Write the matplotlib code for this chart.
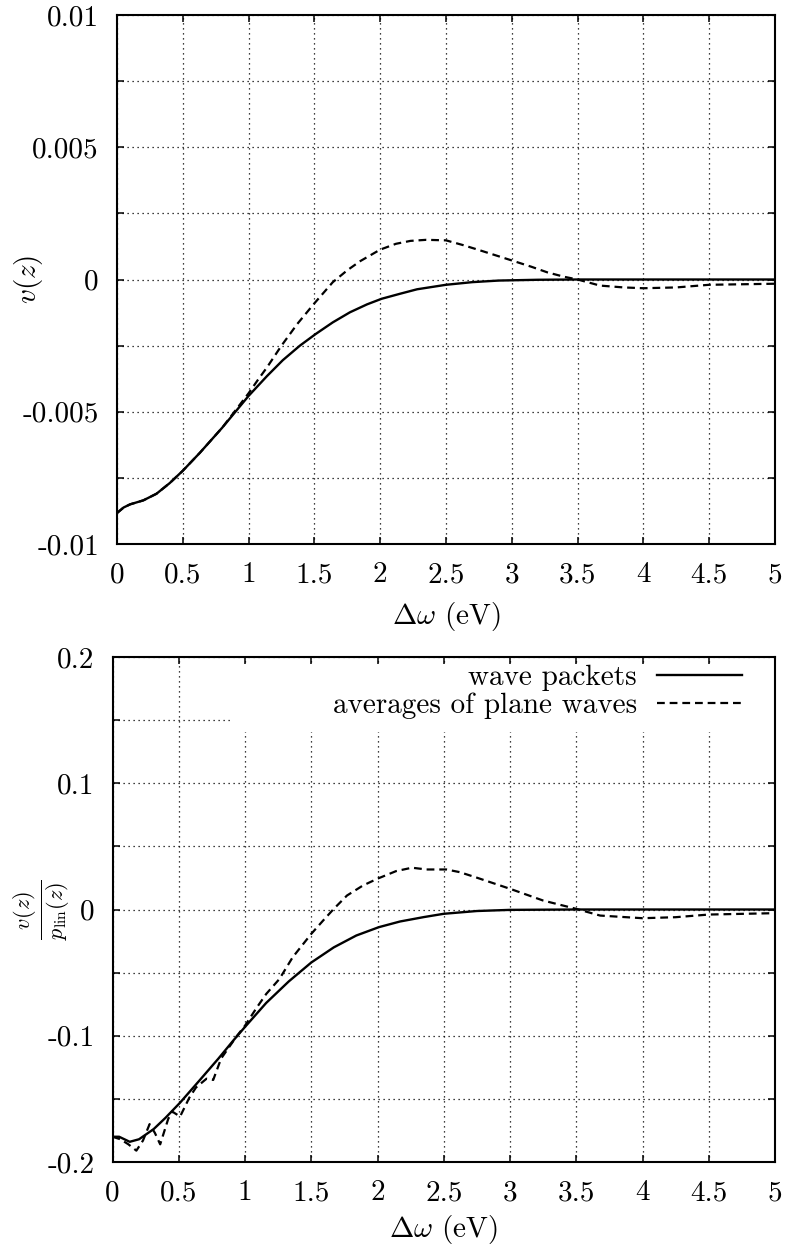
import matplotlib
matplotlib.use('Agg')
import matplotlib.pyplot as plt
from matplotlib.patches import Rectangle

plt.rcParams['font.family'] = 'cmr10'
plt.rcParams['mathtext.fontset'] = 'cm'
plt.rcParams['axes.unicode_minus'] = False
plt.rcParams['axes.formatter.use_mathtext'] = True

# top panel: v(z)
x_top_wp = [0, 0.05, 0.1, 0.2, 0.3, 0.4, 0.5, 0.63, 0.8, 0.9, 1.0, 1.14, 1.26, 1.39,
            1.51, 1.64, 1.77, 1.9, 2.01, 2.15, 2.28, 2.5, 2.7, 2.9, 3.2, 3.5, 4.0, 4.5, 5.0]
v_top_wp = [-0.00883, -0.00862, -0.0085, -0.00835, -0.0081, -0.0077, -0.00723, -0.00655,
            -0.0056, -0.005, -0.0044, -0.00365, -0.00305, -0.0025, -0.00206, -0.00162,
            -0.00124, -0.00094, -0.00073, -0.00054, -0.00037, -0.0002, -0.0001, -0.00004,
            -0.00001, 0, 0, 0, 0]

x_top_pw = [0, 0.05, 0.1, 0.2, 0.3, 0.4, 0.5, 0.63, 0.8, 0.9, 1.0, 1.07, 1.14, 1.25, 1.37,
            1.5, 1.64, 1.75, 1.85, 2.0, 2.12, 2.23, 2.35, 2.5, 2.63, 2.76, 3.0, 3.15, 3.27,
            3.4, 3.5, 3.67, 3.85, 4.0, 4.25, 4.5, 4.75, 5.0]
v_top_pw = [-0.00883, -0.00862, -0.0085, -0.00835, -0.0081, -0.0077, -0.00723, -0.00655,
            -0.0056, -0.00495, -0.0043, -0.0038, -0.00332, -0.0025, -0.00168, -0.0009,
            -0.0001, 0.00035, 0.0007, 0.00113, 0.00135, 0.00146, 0.0015, 0.00148, 0.0013,
            0.0011, 0.00072, 0.00048, 0.00027, 0.0001, 0.0, -0.00023, -0.0003, -0.00033,
            -0.0003, -0.0002, -0.00018, -0.00016]

# bottom panel: v(z)/p_lin(z)
x_bot_wp = [0, 0.05, 0.13, 0.2, 0.31, 0.4, 0.51, 0.66, 0.8, 0.91, 1.0, 1.16, 1.33, 1.5,
            1.67, 1.84, 2.01, 2.17, 2.35, 2.5, 2.75, 3.0, 3.5, 4.0, 4.5, 5.0]
r_bot_wp = [-0.180, -0.180, -0.184, -0.182, -0.174, -0.165, -0.153, -0.135, -0.118, -0.104,
            -0.093, -0.074, -0.057, -0.042, -0.030, -0.0206, -0.014, -0.0095, -0.006,
            -0.0034, -0.0012, -0.0003, 0, 0, 0, 0]

x_bot_pw = [0, 0.06, 0.12, 0.18, 0.23, 0.28, 0.32, 0.36, 0.42, 0.45, 0.48, 0.51, 0.58, 0.63,
            0.71, 0.76, 0.82, 0.94, 1.0, 1.09, 1.16, 1.26, 1.36, 1.5, 1.59, 1.67, 1.77, 1.89,
            2.0, 2.14, 2.26, 2.37, 2.52, 2.62, 2.75, 3.0, 3.25, 3.5, 3.68, 4.0, 4.25, 4.5, 5.0]
r_bot_pw = [-0.180, -0.182, -0.186, -0.191, -0.183, -0.170, -0.177, -0.186, -0.166, -0.160,
            -0.162, -0.164, -0.149, -0.141, -0.134, -0.135, -0.118, -0.100, -0.092, -0.0775,
            -0.0669, -0.055, -0.0378, -0.0193, -0.0087, 0.0005, 0.0111, 0.019, 0.0244,
            0.0304, 0.0331, 0.0317, 0.0317, 0.0296, 0.0252, 0.0164, 0.0071, 0.0005, -0.0048,
            -0.0069, -0.0061, -0.004, -0.0029]

x_ticks = [0, 0.5, 1, 1.5, 2, 2.5, 3, 3.5, 4, 4.5, 5]
x_ticklabels = ['0', '0.5', '1', '1.5', '2', '2.5', '3', '3.5', '4', '4.5', '5']
top_yticks = [-0.01, -0.0075, -0.005, -0.0025, 0, 0.0025, 0.005, 0.0075, 0.01]
top_yticklabels = ['-0.01', '', '-0.005', '', '0', '', '0.005', '', '0.01']
bot_yticks = [-0.2, -0.15, -0.1, -0.05, 0, 0.05, 0.1, 0.15, 0.2]
bot_yticklabels = ['-0.2', '', '-0.1', '', '0', '', '0.1', '', '0.2']

W, H = 792, 1256
fig = plt.figure(figsize=(W / 100, H / 100), dpi=100)
ax1 = fig.add_axes([117 / W, 1 - 544 / H, (775 - 117) / W, (544 - 15) / H])
ax2 = fig.add_axes([112.5 / W, 1 - 1162 / H, (775 - 112.5) / W, (1162 - 657) / H])

fs = 21
dash = (0, (3.5, 2.2))

ax1.plot(x_top_wp, v_top_wp, color='black', lw=1.7, zorder=3)
ax1.plot(x_top_pw, v_top_pw, color='black', lw=1.6, linestyle=dash, zorder=3)
ax2.plot(x_bot_wp, r_bot_wp, color='black', lw=1.7, zorder=3, label='wave packets')
ax2.plot(x_bot_pw, r_bot_pw, color='black', lw=1.6, linestyle=dash, zorder=3,
         label='averages of plane waves')

for ax, yt, ytl in [(ax1, top_yticks, top_yticklabels), (ax2, bot_yticks, bot_yticklabels)]:
    ax.set_xlim(0, 5)
    ax.set_ylim(yt[0], yt[-1])
    ax.set_xticks(x_ticks)
    ax.set_xticklabels(x_ticklabels, fontsize=fs)
    ax.set_yticks(yt)
    ax.set_yticklabels(ytl, fontsize=fs)
    ax.set_axisbelow(True)
    ax.grid(True, color='black', lw=0.9, linestyle=(0, (1, 3)))
    ax.tick_params(direction='in', length=5, width=1.1, top=True, right=True)
    ax.tick_params(axis='x', pad=13)
    ax.tick_params(axis='y', pad=13)
    for sp in ax.spines.values():
        sp.set_linewidth(1.5)
    ax.set_xlabel(r'$\Delta\omega$ (eV)', fontsize=fs)

ax1.xaxis.set_label_coords(0.5, -0.105)
ax2.xaxis.set_label_coords(0.5, -0.10)
ax1.set_ylabel(r'$v(z)$', fontsize=fs)
ax1.yaxis.set_label_coords(-0.11, 0.5)
ax2.set_ylabel(r'$\frac{v(z)}{p_{\rm lin}(z)}$', fontsize=fs + 2)
ax2.yaxis.set_label_coords(-0.062, 0.5)

# opaque key box like gnuplot
ax2.add_patch(Rectangle((0.177, 0.851), 0.823, 0.133, transform=ax2.transAxes,
                        facecolor='white', edgecolor='none', zorder=1))
ax2.legend(loc='upper right', bbox_to_anchor=(0.95, 0.985), frameon=False,
           markerfirst=False, fontsize=fs, borderpad=0, borderaxespad=0,
           handlelength=2.9, handletextpad=0.7, labelspacing=0.05)

fig.savefig('out.png', dpi=100)
